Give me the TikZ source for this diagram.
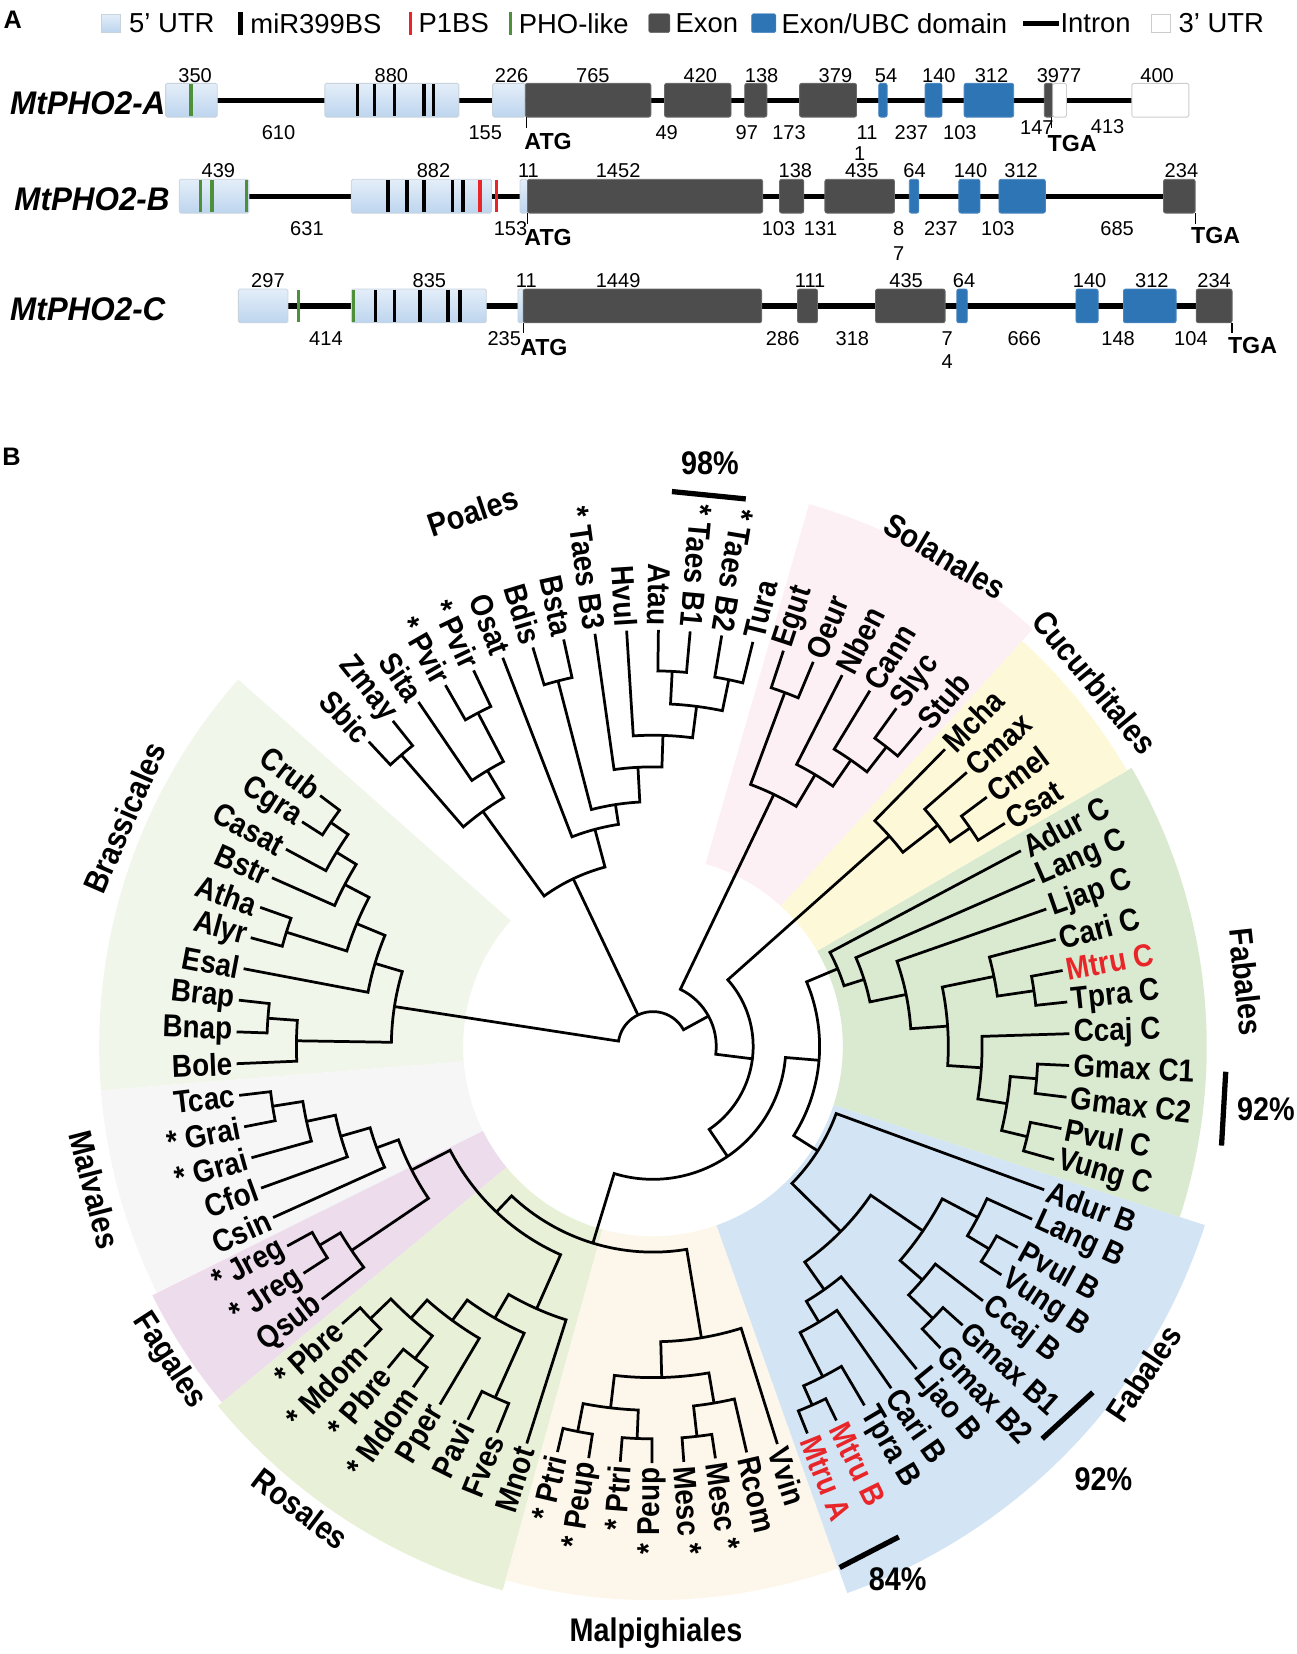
\documentclass[tikz,border=0pt]{standalone}
\usepackage{fontspec}
\setmainfont{Liberation Sans}
\newfontfamily\narrowsans[FakeStretch=0.88]{Liberation Sans}
\newfontfamily\genesans[FakeStretch=0.96]{Liberation Sans}
\usetikzlibrary{positioning}

\definecolor{utrtop}{HTML}{E4EEF9}
\definecolor{utrbot}{HTML}{BDD5EE}
\definecolor{utredge}{HTML}{C9D3DD}
\definecolor{exongray}{HTML}{4D4D4D}
\definecolor{exonedge}{HTML}{6A6A6A}
\definecolor{ubcblue}{HTML}{2E75B6}
\definecolor{ubcedge}{HTML}{4A86C0}
\definecolor{mtred}{HTML}{E8262A}
\definecolor{phogreen}{HTML}{4E8F3A}
\definecolor{brassbg}{HTML}{F1F6EA}
\definecolor{malvbg}{HTML}{F6F6F6}
\definecolor{fagbg}{HTML}{ECDCEC}
\definecolor{rosbg}{HTML}{E8F0D8}
\definecolor{malpbg}{HTML}{FDF6EA}
\definecolor{fabbbg}{HTML}{D3E4F4}
\definecolor{fabcbg}{HTML}{D9EAD0}
\definecolor{cucbg}{HTML}{FCF8D8}
\definecolor{solbg}{HTML}{FDF0F4}

\tikzset{
  panellab/.style={inner sep=0pt, font=\bfseries\fontsize{24}{24}\selectfont},
  legtext/.style={inner sep=0pt, font=\fontsize{26}{26}\selectfont},
  utrkey/.style={draw=utredge, top color=utrtop, bottom color=utrbot, minimum width=18pt, minimum height=17pt, inner sep=0pt},
  barkey/.style={minimum width=4pt, minimum height=22pt, inner sep=0pt},
  exonkey/.style={fill=exongray, draw=exonedge, minimum width=20pt, minimum height=18pt, inner sep=0pt, rounded corners=1.5pt},
  ubckey/.style={fill=ubcblue, draw=ubcedge, minimum width=23pt, minimum height=18pt, inner sep=0pt, rounded corners=1.5pt},
  intronkey/.style={fill=black, minimum width=34pt, minimum height=5pt, inner sep=0pt},
  utr3key/.style={draw=gray!40, fill=white, minimum width=18pt, minimum height=17pt, inner sep=0pt},
  genename/.style={inner sep=0pt, font=\genesans\bfseries\itshape\fontsize{31}{31}\selectfont},
  num/.style={inner sep=0pt, font=\fontsize{19}{19}\selectfont},
  codon/.style={inner sep=0pt, anchor=west, font=\bfseries\fontsize{22}{22}\selectfont},
  utrbox/.style={draw=utredge, line width=0.8pt, top color=utrtop, bottom color=utrbot, rounded corners=1.5pt},
  exonbox/.style={draw=exonedge, fill=exongray, line width=0.8pt, rounded corners=2pt},
  ubcbox/.style={draw=ubcedge, fill=ubcblue, line width=0.8pt, rounded corners=2pt},
  utrthree/.style={draw=gray!40, fill=white, line width=0.8pt, rounded corners=1.5pt},
  intronline/.style={line width=5pt},
  mirbar/.style={line width=3.5pt},
  p1bar/.style={line width=3pt, draw=mtred},
  phobar/.style={line width=3pt, draw=phogreen},
  tick/.style={line width=1.2pt},
  branch/.style={line width=2.6pt, line join=miter},
  leaf/.style={inner sep=0pt, font=\narrowsans\bfseries\fontsize{30}{30}\selectfont},
  cladelab/.style={inner sep=0pt, font=\narrowsans\bfseries\fontsize{31}{31}\selectfont},
  suppbar/.style={line width=5pt}
}

% tree helpers: angle and radius of every tree node are kept by name
\newcommand\setcl[3]{\expandafter\xdef\csname cla@#1\endcsname{#2}\expandafter\xdef\csname clr@#1\endcsname{#3}}
\newcommand\clang[1]{\csname cla@#1\endcsname}
\newcommand\clade[4]{% name, radius, child, child
  \pgfmathsetmacro\clA{\clang{#3}}%
  \pgfmathsetmacro\clB{\clang{#4}}%
  \pgfmathsetmacro\clM{(\clA+\clB)/2}%
  \draw[branch] (#3) -- (\clA:#2) arc[start angle=\clA, end angle=\clB, radius=#2] -- (#4);
  \coordinate (#1) at (\clM:#2);
  \setcl{#1}{\clM}{#2}}
\newcommand\cladewedge[4]{% colour, from, to, outer radius
  \fill[#1] (#2:180) -- (#2:#4) arc[start angle=#2, end angle=#3, radius=#4] -- (#3:180) arc[start angle=#3, end angle=#2, radius=180] -- cycle;}

\begin{document}
\begin{tikzpicture}[x=1pt, y=1pt]
\useasboundingbox (0,0) rectangle (1229,-1568);

% ---- panel A: legend
\node[panellab] (labA) at (12,-19) {A};
\node[utrkey] (k5utr) at (105,-22) {};
\node[legtext, right=8pt of k5utr] (t5utr) {5' UTR};
\node[barkey, fill=black] (kmir) at (228,-22) {};
\node[legtext, right=7pt of kmir] (tmir) {miR399BS};
\node[barkey, fill=mtred, minimum width=3pt] (kp1) at (389,-22) {};
\node[legtext, right=6pt of kp1] (tp1) {P1BS};
\node[barkey, fill=phogreen, minimum width=3pt] (kpho) at (484,-22) {};
\node[legtext, right=6pt of kpho] (tpho) {PHO-like};
\node[exonkey] (kexon) at (625,-22) {};
\node[legtext, right=5pt of kexon] (texon) {Exon};
\node[ubckey] (kubc) at (724,-22) {};
\node[legtext, right=5pt of kubc] (tubc) {Exon/UBC domain};
\node[intronkey] (kintron) at (987,-22) {};
\node[legtext, right=1pt of kintron] (tintron) {Intron};
\node[utr3key] (k3utr) at (1100,-22) {};
\node[legtext, right=8pt of k3utr] (t3utr) {3' UTR};

% ---- MtPHO2-A
\node[genename, anchor=east] (gA) at (157,-98) {MtPHO2-A};
\draw[intronline] (206,-95) -- (1073,-95);
\foreach \a/\b in {157/206, 308/435, 467/498} \draw[utrbox] (\a,-79) rectangle (\b,-111);
\foreach \a/\b in {498/617, 630/693, 706/727, 758/812, 990/998} \draw[exonbox] (\a,-79) rectangle (\b,-111);
\foreach \a/\b in {833/841, 877/893, 914/961} \draw[ubcbox] (\a,-79) rectangle (\b,-111);
\foreach \a/\b in {998/1011, 1073/1127} \draw[utrthree] (\a,-79) rectangle (\b,-111);
\draw[phobar] (181,-80) -- (181,-110);
\foreach \x in {339,355,374,402,411} \draw[mirbar] (\x,-80) -- (\x,-110);
\foreach \x/\t in {185/350, 371/880, 485/226, 562/765, 664/420, 722/138, 792/379, 840/54, 890/140, 940/312, 1004/3977, 1097/400}
  \node[num] at (\x,-72) {\t};
\foreach \x/\t in {264/610, 460/155, 632/49, 708/97, 748/173, 822/11, 864/237, 910/103}
  \node[num] at (\x,-126) {\t};
\node[num] at (983,-121) {147};
\node[num] at (1050,-120) {413};
\node[num] at (815,-146) {1};
\draw[tick] (499,-111) -- (499,-121);
\node[codon] (atgA) at (497,-134) {ATG};
\draw[tick] (997,-111) -- (997,-121);
\node[codon] (tgaA) at (993,-136) {TGA};

% ---- MtPHO2-B
\node[genename, anchor=east] (gB) at (161,-189) {MtPHO2-B};
\draw[intronline] (236,-186) -- (1103,-186);
\foreach \a/\b in {170/236, 333/466, 493/500} \draw[utrbox] (\a,-170) rectangle (\b,-202);
\foreach \a/\b in {500/723, 739/762, 782/848, 1103/1133} \draw[exonbox] (\a,-170) rectangle (\b,-202);
\foreach \a/\b in {862/871, 909/929, 947/991} \draw[ubcbox] (\a,-170) rectangle (\b,-202);
\foreach \x in {190,201,234} \draw[phobar] (\x,-171) -- (\x,-201);
\foreach \x in {368,386,402,429,439} \draw[mirbar] (\x,-171) -- (\x,-201);
\foreach \x in {455,471} \draw[p1bar] (\x,-171) -- (\x,-201);
\foreach \x/\t in {207/439, 411/882, 501/11, 586/1452, 754/138, 817/435, 867/64, 920/140, 968/312, 1120/234}
  \node[num] at (\x,-162) {\t};
\foreach \x/\t in {291/631, 484/153, 738/103, 778/131, 852/8, 892/237, 946/103, 1059/685}
  \node[num] at (\x,-217) {\t};
\node[num] at (852,-240) {7};
\draw[tick] (500,-202) -- (500,-212);
\node[codon] (atgB) at (497,-225) {ATG};
\draw[tick] (1133,-202) -- (1133,-212);
\node[codon] (tgaB) at (1129,-223) {TGA};

% ---- MtPHO2-C
\node[genename, anchor=east] (gC) at (157,-293) {MtPHO2-C};
\draw[intronline] (273,-290) -- (1134,-290);
\foreach \a/\b in {226/273, 333/461, 491/496} \draw[utrbox] (\a,-274) rectangle (\b,-306);
\foreach \a/\b in {496/722, 756/775, 830/896, 1134/1168} \draw[exonbox] (\a,-274) rectangle (\b,-306);
\foreach \a/\b in {907/917, 1020/1041, 1065/1115} \draw[ubcbox] (\a,-274) rectangle (\b,-306);
\foreach \x in {283,335} \draw[phobar] (\x,-275) -- (\x,-305);
\foreach \x in {356,374,398,425,436} \draw[mirbar] (\x,-275) -- (\x,-305);
\foreach \x/\t in {254/297, 407/835, 499/11, 586/1449, 768/111, 859/435, 914/64, 1033/140, 1092/312, 1151/234}
  \node[num] at (\x,-266) {\t};
\foreach \x/\t in {309/414, 478/235, 742/286, 808/318, 898/7, 971/666, 1060/148, 1129/104}
  \node[num] at (\x,-321) {\t};
\node[num] at (898,-343) {4};
\draw[tick] (496,-306) -- (496,-316);
\node[codon] (atgC) at (493,-329) {ATG};
\draw[tick] (1168,-306) -- (1168,-316);
\node[codon] (tgaC) at (1164,-328) {TGA};

% ---- panel B: circular tree
\node[panellab] (labB) at (11,-433) {B};
\begin{scope}[shift={(619,-992)}]
\cladewedge{brassbg}{138.5}{184.56}{525}
\cladewedge{malvbg}{184.56}{206.44}{525}
\cladewedge{fagbg}{206.44}{219.56}{530}
\cladewedge{rosbg}{219.56}{254.56}{535}
\cladewedge{malpbg}{254.56}{289.56}{525}
\cladewedge{fabbbg}{289.56}{342.06}{550}
\cladewedge{fabcbg}{342.06}{390.19}{525}
\cladewedge{cucbg}{390.19}{407.69}{520}
\cladewedge{solbg}{407.69}{433.94}{535}

% leaves, counter-clockwise from Crub
\foreach \i/\txt/\col in {0/Crub/black, 1/Cgra/black, 2/Casat/black, 3/Bstr/black, 4/Atha/black,
  5/Alyr/black, 6/Esal/black, 7/Brap/black, 8/Bnap/black, 9/Bole/black,
  10/Tcac/black, 11/* Grai/black, 12/* Grai/black, 13/Cfol/black, 14/Csin/black,
  15/* Jreg/black, 16/* Jreg/black, 17/Qsub/black,
  18/* Pbre/black, 19/* Mdom/black, 20/* Pbre/black, 21/* Mdom/black, 22/Pper/black,
  23/Pavi/black, 24/Fves/black, 25/Mnot/black,
  26/* Ptri/black, 27/* Peup/black, 28/* Ptri/black, 29/* Peup/black, 30/Mesc */black,
  31/Mesc */black, 32/Rcom/black, 33/Vvin/black,
  34/Mtru A/mtred, 35/Mtru B/mtred, 36/Tpra B/black, 37/Cari B/black, 38/Ljao B/black,
  39/Gmax B2/black, 40/Gmax B1/black, 41/Ccaj B/black, 42/Vung B/black, 43/Pvul B/black,
  44/Lang B/black, 45/Adur B/black,
  46/Vung C/black, 47/Pvul C/black, 48/Gmax C2/black, 49/Gmax C1/black, 50/Ccaj C/black,
  51/Tpra C/black, 52/Mtru C/mtred, 53/Cari C/black, 54/Ljap C/black, 55/Lang C/black, 56/Adur C/black,
  57/Csat/black, 58/Cmel/black, 59/Cmax/black, 60/Mcha/black,
  61/Stub/black, 62/Slyc/black, 63/Cann/black, 64/Nben/black, 65/Oeur/black, 66/Egut/black, 67/Tura/black,
  68/* Taes B2/black, 69/* Taes B1/black, 70/Atau/black, 71/Hvul/black, 72/* Taes B3/black,
  73/Bsta/black, 74/Bdis/black, 75/Osat/black, 76/* Pvir/black, 77/* Pvir/black,
  78/Sita/black, 79/Zmay/black, 80/Sbic/black}{
  \pgfmathsetmacro\ang{143+4.375*\i}
  \coordinate (lf\i) at (\ang:395);
  \setcl{lf\i}{\ang}{395}
  \ifnum\i<30 \node[leaf, text=\col, anchor=east, rotate=\ang+180] (lab\i) at (\ang:399) {\txt};
  \else\ifnum\i>67 \node[leaf, text=\col, anchor=east, rotate=\ang+180] (lab\i) at (\ang:399) {\txt};
  \else \node[leaf, text=\col, anchor=west, rotate=\ang] (lab\i) at (\ang:399) {\txt};
  \fi\fi
}

% Brassicales
\clade{B1}{372}{lf0}{lf1}
\clade{B2}{352}{B1}{lf2}
\clade{B3}{330}{B2}{lf3}
\clade{B4}{364}{lf4}{lf5}
\clade{B5}{304}{B3}{B4}
\clade{B6}{275}{B5}{lf6}
\clade{B7}{366}{lf7}{lf8}
\clade{B8}{338}{B7}{lf9}
\clade{B9}{248}{B6}{B8}
% Malvales, Fagales
\clade{M1}{365}{lf10}{lf11}
\clade{M2}{336}{M1}{lf12}
\clade{M3}{308}{M2}{lf13}
\clade{M4}{279}{M3}{lf14}
\clade{F1}{368}{lf15}{lf16}
\clade{F2}{345}{F1}{lf17}
\clade{MF}{257}{M4}{F2}
% Rosales
\clade{R1}{372}{lf18}{lf19}
\clade{R2}{372}{lf20}{lf21}
\clade{R3}{345}{R1}{R2}
\clade{R4}{322}{R3}{lf22}
\clade{R5}{365}{lf23}{lf24}
\clade{R6}{298}{R4}{R5}
\clade{R7}{272}{R6}{lf25}
\clade{X1}{216}{MF}{R7}
% Malpighiales
\clade{L1}{372}{lf26}{lf27}
\clade{L2}{372}{lf28}{lf29}
\clade{L3}{345}{L1}{L2}
\clade{L4}{372}{lf30}{lf31}
\clade{L5}{343}{L4}{lf32}
\clade{L6}{314}{L3}{L5}
\clade{L7}{280}{L6}{lf33}
\clade{X2}{195}{X1}{L7}
% Fabales B
\clade{FB1}{372}{lf34}{lf35}
\clade{FB2}{352}{FB1}{lf36}
\clade{FB3}{305}{FB2}{lf37}
\clade{FB4}{282}{FB3}{lf38}
\clade{FB5}{370}{lf39}{lf40}
\clade{FB6}{338}{FB5}{lf41}
\clade{FB7}{372}{lf42}{lf43}
\clade{FB8}{348}{FB7}{lf44}
\clade{FB9}{310}{FB6}{FB8}
\clade{FB10}{250}{FB4}{FB9}
\clade{FB11}{185}{FB10}{lf45}
% Fabales C
\clade{FC1}{365}{lf51}{lf52}
\clade{FC2}{330}{FC1}{lf53}
\clade{FC3}{365}{lf48}{lf49}
\clade{FC4}{365}{lf46}{lf47}
\clade{FC5}{340}{FC4}{FC3}
\clade{FC6}{312}{FC5}{lf50}
\clade{FC7}{280}{FC6}{FC2}
\clade{FC8}{245}{FC7}{lf54}
\clade{FC9}{210}{FC8}{lf55}
\clade{FC10}{190}{FC9}{lf56}
\clade{N4}{158}{FB11}{FC10}
\clade{N3}{126}{X2}{N4}
% Cucurbitales
\clade{C1}{365}{lf57}{lf58}
\clade{C2}{342}{C1}{lf59}
\clade{C3}{300}{C2}{lf60}
\clade{N2}{95}{N3}{C3}
% Solanales
\clade{S1}{360}{lf61}{lf62}
\clade{S2}{330}{S1}{lf63}
\clade{S3}{300}{S2}{lf64}
\clade{S4}{358}{lf65}{lf66}
\clade{S5}{265}{S3}{S4}
\clade{N1}{60}{N2}{S5}
% Poales
\clade{Pa}{356}{lf69}{lf70}
\clade{Pb}{355}{lf67}{lf68}
\clade{Pc}{325}{Pb}{Pa}
\clade{Pd}{295}{Pc}{lf71}
\clade{Pe}{265}{Pd}{lf72}
\clade{Pg}{358}{lf73}{lf74}
\clade{Pf}{232}{Pe}{Pg}
\clade{Ph}{213}{Pf}{lf75}
\clade{Pi}{357}{lf76}{lf77}
\clade{Pj}{305}{Pi}{lf78}
\clade{Pk}{365}{lf79}{lf80}
\clade{Pl}{275}{Pj}{Pk}
\clade{Pm}{176}{Ph}{Pl}
% root
\pgfmathsetmacro\rootA{\clang{B9}+360}
\pgfmathsetmacro\rootB{\clang{N1}}
\pgfmathsetmacro\rootP{\clang{Pm}}
\draw[branch] (B9) -- (\rootA:33) arc[start angle=\rootA, end angle=\rootB, radius=33] -- (N1);
\draw[branch] (Pm) -- (\rootP:33);

% order names
\node[cladelab, rotate=18.6] (poales) at (108.6:535) {Poales};
\node[cladelab, rotate=-30.8] (solan) at (59.2:541) {Solanales};
\node[cladelab, rotate=-50.5] (cucur) at (39.5:543) {Cucurbitales};
\node[cladelab, rotate=-83.8] (fabC) at (6.2:566) {Fabales};
\node[cladelab, rotate=56.3] (fabB) at (-33.7:559) {Fabales};
\node[cladelab] (malpi) at (-89.7:556) {Malpighiales};
\node[cladelab, rotate=-37.3] (rosal) at (232.7:551) {Rosales};
\node[cladelab, rotate=-57] (fagal) at (213:547) {Fagales};
\node[cladelab, rotate=-75.6] (malva) at (194.4:546) {Malvales};
\node[cladelab, rotate=66.6] (brass) at (156.6:546) {Brassicales};
\end{scope}

% bootstrap marks
\draw[suppbar] (637,-466) -- (707,-473);
\node[cladelab] (bs98) at (673,-439) {98\%};
\draw[suppbar] (1162,-1016) -- (1158,-1086);
\node[cladelab] (bs92c) at (1200,-1052) {92\%};
\draw[suppbar] (988,-1364) -- (1036,-1320);
\node[cladelab] (bs92b) at (1046,-1402) {92\%};
\draw[suppbar] (796,-1486) -- (852,-1457);
\node[cladelab] (bs84) at (851,-1497) {84\%};
\end{tikzpicture}
\end{document}
